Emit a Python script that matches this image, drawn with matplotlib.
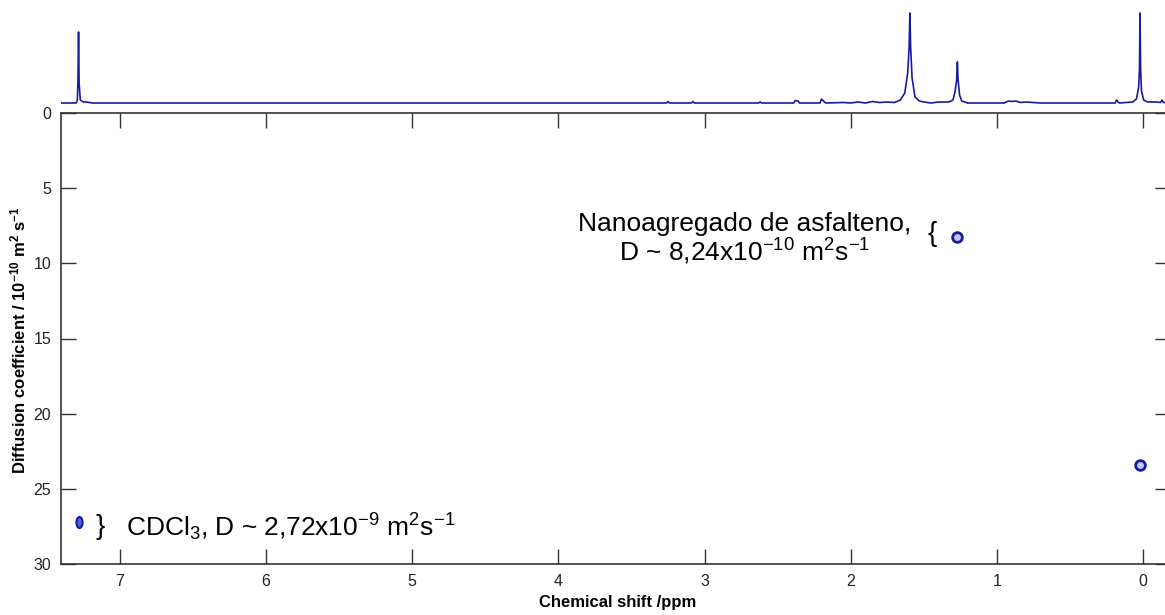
import numpy as np
import matplotlib
matplotlib.use('Agg')
import matplotlib.pyplot as plt
from matplotlib.markers import MarkerStyle
from matplotlib.transforms import Affine2D

plt.rcParams['font.family'] = ['Liberation Sans', 'DejaVu Sans']
plt.rcParams['mathtext.fontset'] = 'custom'
plt.rcParams['mathtext.rm'] = 'Liberation Sans'
plt.rcParams['mathtext.it'] = 'Liberation Sans:italic'
plt.rcParams['mathtext.bf'] = 'Liberation Sans:bold'

# 1H spectrum projection (ppm, intensity)
spec_ppm = [7.40, 7.30, 7.292, 7.288, 7.284, 7.280, 7.272, 7.25, 7.23, 7.21, 7.19,
            3.26, 3.25, 3.24, 3.09, 3.08, 3.07, 2.63, 2.62, 2.61,
            2.39, 2.38, 2.36, 2.35, 2.21, 2.20, 2.18, 2.17,
            2.05, 2.00, 1.95, 1.90, 1.85, 1.80, 1.75, 1.70,
            1.66, 1.63, 1.61, 1.60, 1.595, 1.59, 1.58, 1.56, 1.53,
            1.50, 1.45, 1.40, 1.33, 1.30, 1.285, 1.275, 1.27, 1.265, 1.255, 1.24, 1.20,
            0.95, 0.92, 0.90, 0.87, 0.84, 0.80, 0.75, 0.70,
            0.19, 0.18, 0.17, 0.16,
            0.07, 0.045, 0.03, 0.024, 0.02, 0.016, 0.01, -0.005, -0.03,
            -0.10, -0.12, -0.13, -0.14, -0.20]
spec_int = [0, 0, 3, 22, 71, 20, 3, 1, 1, 0.5, 0,
            0, 1.5, 0, 0, 1.5, 0, 0, 1, 0,
            0, 2.5, 2, 0, 0, 4, 1, 0,
            0.5, 0, 1, 0, 1.5, 0.5, 1, 0.5,
            3, 10, 30, 56, 90, 56, 25, 6, 2,
            1, 0, 1, 1, 3, 12, 23, 41, 23, 8, 2, 0,
            0, 2, 1.5, 2, 0.5, 1, 0.5, 0,
            0, 3, 1, 0,
            1, 4, 15, 33, 90, 33, 12, 3, 1,
            1, 0.5, 3, 0.5, 0.5]

# DOSY cross peaks
pts_ppm = [7.28, 1.27, 0.02]
pts_D = [27.2, 8.24, 23.4]

xticks = [0, 1, 2, 3, 4, 5, 6, 7]
yticks = [0, 5, 10, 15, 20, 25, 30]

blue = '#1a1a9c'
W, H = 1165, 615
fig = plt.figure(figsize=(W/100, H/100), dpi=100)

x0, x1 = 61, 1170
xl = (7.404, -0.185)

def px(x, y):
    return (x/W, 1-y/H)

# main DOSY axes
ax = fig.add_axes([x0/W, 1-564/H, (x1-x0)/W, (564-113)/H])
ax.set_xlim(xl)
ax.set_ylim(30, 0)
ax.set_xticks(xticks)
ax.set_yticks(yticks)
ax.tick_params(direction='in', length=11, width=1, color='#333333', labelsize=11.5,
               top=True, right=True, pad=7, labelcolor='#222222')
for s in ax.spines.values():
    s.set_color('#333333')
    s.set_linewidth(1.2)

m_oval = MarkerStyle('o', transform=Affine2D().scale(0.55, 1.0))
ax.plot(pts_ppm[0], pts_D[0], ls='none', marker=m_oval, ms=8, mfc='#5060e0', mec=blue, mew=1.5)
ax.plot(pts_ppm[1:], pts_D[1:], ls='none', marker='o', ms=7, mfc='#c0c8ff', mec=blue, mew=2)

fig.text(*px(745, 224), 'Nanoagregado de asfalteno,', fontsize=19, ha='center', va='center')
fig.text(*px(745, 252), 'D ~ 8,24x10$^{-10}$ m$^2$s$^{-1}$', fontsize=19, ha='center', va='center')
fig.text(*px(932, 234), '{', fontsize=20, ha='center', va='center')
fig.text(*px(100, 527), '}', fontsize=20, ha='center', va='center')
fig.text(*px(126, 527), 'CDCl$_3$, D ~ 2,72x10$^{-9}$ m$^2$s$^{-1}$', fontsize=19, ha='left', va='center')

fig.text(*px(18, 340), r'Diffusion coefficient / 10$^{\mathbf{-10}}$ m$^{\mathbf{2}}$ s$^{\mathbf{-1}}$',
         fontsize=12, fontweight='bold', rotation=90, ha='center', va='center')
fig.text(*px(618, 603), 'Chemical shift /ppm', fontsize=12, fontweight='bold', ha='center', va='center')

# top 1D projection (no frame)
axt = fig.add_axes([x0/W, 1-104/H, (x1-x0)/W, 100/H])
axt.plot(spec_ppm, spec_int, color=blue, lw=1.2)
axt.set_xlim(xl)
axt.set_ylim(-1, 99)
axt.axis('off')

fig.savefig('out.png', dpi=100, facecolor='white')
